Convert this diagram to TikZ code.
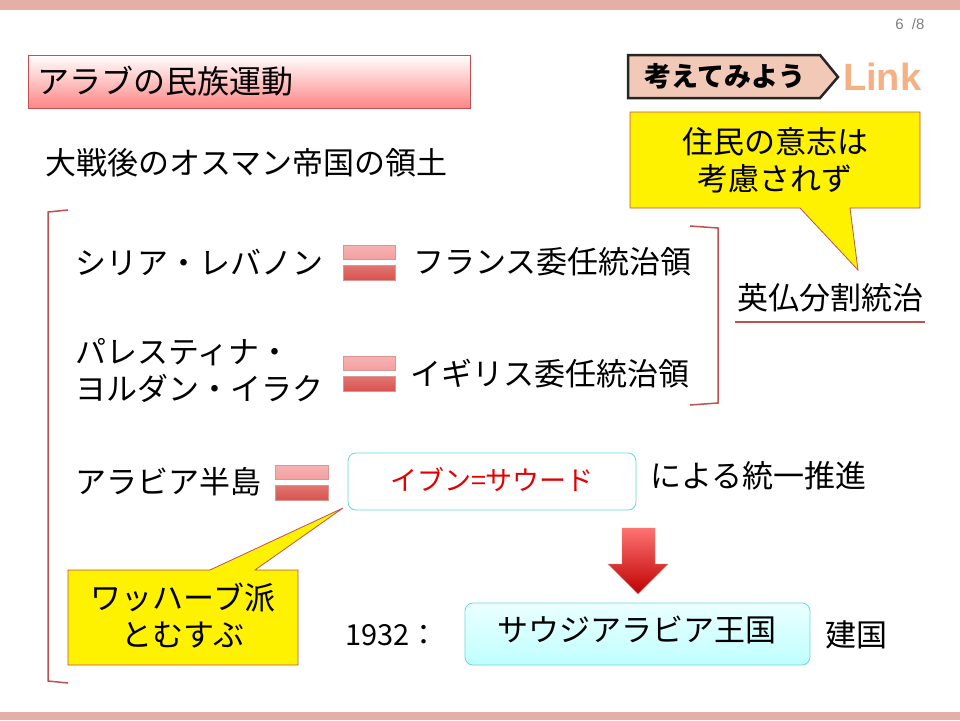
\documentclass[tikz,border=0pt]{standalone}
\usepackage{fontspec}
\setmainfont{Noto Sans CJK JP}
\newfontfamily\latf{Liberation Sans}
\definecolor{barc}{HTML}{E3AFA6}
\definecolor{brk}{HTML}{C0504D}
\definecolor{eqa}{HTML}{F4A0A0}
\definecolor{eqb}{HTML}{D9534F}
\definecolor{linkc}{HTML}{F4B183}
\tikzset{
 tx/.style={anchor=west,font=\fontsize{31}{37}\selectfont,inner sep=0},
 callout/.style={draw=brk,fill=yellow,line width=0.8pt}
}
\newcommand{\eqsign}[3]{%
 \fill[top color=eqa!80!white,bottom color=eqa,draw=brk!60] (#1,#3-17) rectangle (#2,#3-3);
 \fill[top color=eqb!80,bottom color=eqb,draw=brk!60] (#1,#3+3) rectangle (#2,#3+18);}
\begin{document}
\begin{tikzpicture}[x=1pt,y=-1pt]
\useasboundingbox (0,0) rectangle (960,720);
\fill[white] (0,0) rectangle (960,720);
\fill[barc] (0,0) rectangle (960,10);
\fill[barc] (0,712) rectangle (960,720);
\node[anchor=east,text=gray,font=\latf\fontsize{15}{16}\selectfont] (pg) at (928,24) {6\ \ /8};
% title
\shade[top color=white,bottom color=red!30!pink,draw=brk,line width=0.8pt] (28,55) rectangle (470,108);
\node[tx,font=\fontsize{32}{36}\selectfont] (title) at (37,81) {アラブの民族運動};
% 考えてみよう
\draw[fill=barc!80!orange!60,line width=2.5pt,draw=black!85] (628,55) -- (820,55) -- (838,77) -- (820,98) -- (628,98) -- cycle;
\node[font=\bfseries\fontsize{27}{30}\selectfont] (kan) at (725,76) {考えてみよう};
\node[anchor=west,text=linkc,font=\latf\bfseries\fontsize{38}{40}\selectfont,inner sep=0] (link) at (843,77) {Link};
% heading
\node[tx] (head) at (45,163) {大戦後のオスマン帝国の領土};
% left bracket
\draw[brk,line width=1.5pt] (68,210) -- (48,212) -- (48,681) -- (68,683);
% rows
\node[tx] (syr) at (75,262) {シリア・レバノン};
\eqsign{343}{395}{262}
\node[tx] (fr) at (413,262) {フランス委任統治領};
\node[tx,align=left] (pal) at (75,370) {パレスティナ・\\ヨルダン・イラク};
\eqsign{343}{395}{373}
\node[tx] (uk) at (410,374) {イギリス委任統治領};
% right bracket
\draw[brk,line width=1.5pt] (690,226) -- (718,228) -- (718,403) -- (690,405);
\node[font=\fontsize{31}{37}\selectfont] (bf) at (830,298) {英仏分割統治};
\draw[brk,line width=1.8pt] (735,322) -- (925,322);
% callout 1
\draw[callout] (630,112) -- (920,112) -- (920,208) -- (850,208) -- (858,270) -- (800,208) -- (630,208) -- cycle;
\node[align=center,font=\fontsize{31}{37}\selectfont] (c1) at (775,160) {住民の意志は\\考慮されず};
% arabia
\node[tx] (ara) at (75,482) {アラビア半島};
\eqsign{275}{328}{482}
\draw[rounded corners=8pt,draw=teal!50!cyan!60,fill=white,line width=0.8pt] (348,453) rectangle (636,510);
\node[text=red!90!black,font=\fontsize{27}{30}\selectfont] (ibn) at (492,480) {イブン=サウード};
\node[tx] (uni) at (650,476) {による統一推進};
% arrow
\shade[top color=red!40!pink,bottom color=red!75!black,draw=brk!70] (622,528) -- (655,528) -- (655,564) -- (668,564) -- (638,594) -- (608,564) -- (622,564) -- cycle;
% callout 2
\draw[callout] (68,570) -- (210,570) -- (343,508) -- (255,570) -- (298,570) -- (298,665) -- (68,665) -- cycle;
\node[align=center,font=\fontsize{31}{37}\selectfont] (c2) at (183,616) {ワッハーブ派\\とむすぶ};
% 1932
\node[tx,font=\fontsize{29}{34}\selectfont] (yr) at (345,635) {1932：};
\shade[rounded corners=8pt,top color=cyan!8,bottom color=cyan!25,draw=teal!50!cyan!60,line width=0.8pt] (465,603) rectangle (810,665);
\node[font=\fontsize{31}{37}\selectfont] (sa) at (637,630) {サウジアラビア王国};
\node[tx] (ken) at (825,635) {建国};
\end{tikzpicture}
\end{document}
